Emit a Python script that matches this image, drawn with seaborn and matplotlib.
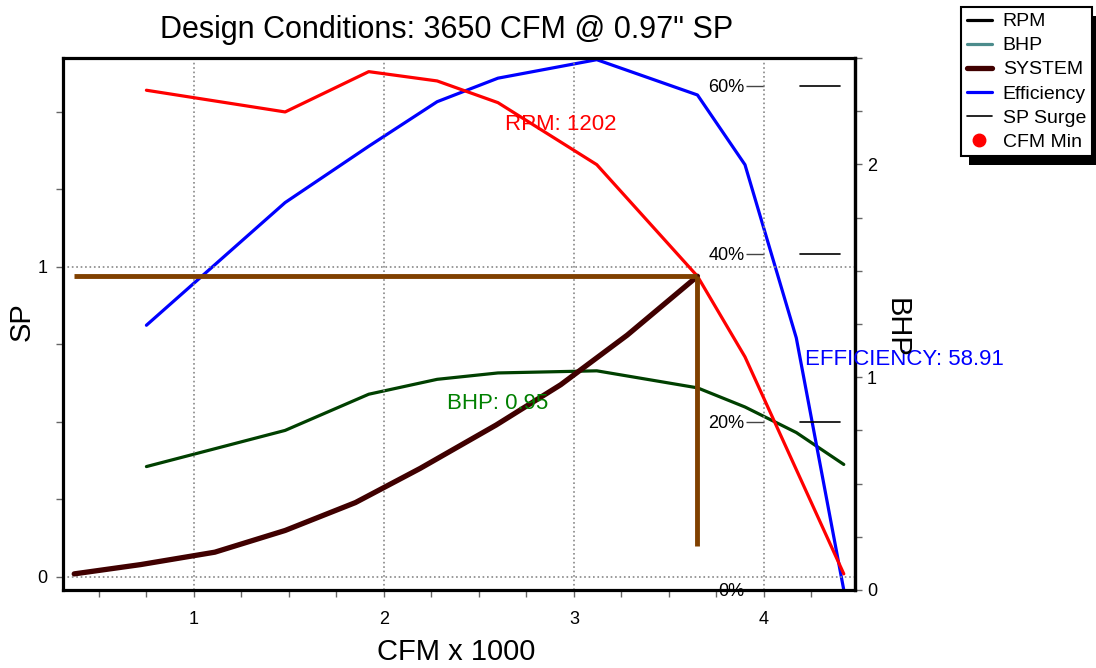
import matplotlib
matplotlib.use("Agg")
import matplotlib.pyplot as plt
import seaborn as sns
from matplotlib.lines import Line2D
from matplotlib.patches import Rectangle
from matplotlib.ticker import MultipleLocator, FixedLocator

# Courbe du ventilateur (SP en fonction du débit, à 1202 RPM)
fan_cfm = [0.75, 1.48, 1.92, 2.28, 2.60, 3.12, 3.65, 3.90, 4.42]
fan_sp = [1.57, 1.50, 1.63, 1.60, 1.53, 1.33, 0.97, 0.71, 0.01]

# Rendement (%)
eff_cfm = [0.75, 1.48, 1.92, 2.28, 2.60, 3.12, 3.65, 3.90, 4.17, 4.42]
eff_pct = [31.5, 46.1, 52.8, 58.1, 60.9, 63.1, 58.9, 50.6, 30.0, 0.0]

# Puissance (BHP)
bhp_cfm = [0.75, 1.48, 1.92, 2.28, 2.60, 3.12, 3.65, 3.90, 4.17, 4.42]
bhp_val = [0.58, 0.75, 0.92, 0.99, 1.02, 1.03, 0.95, 0.86, 0.74, 0.59]

# Courbe du système
sys_cfm = [0.37, 0.72, 1.11, 1.48, 1.85, 2.19, 2.59, 2.93, 3.28, 3.65]
sys_sp = [0.01, 0.04, 0.08, 0.15, 0.24, 0.35, 0.49, 0.62, 0.78, 0.97]

# Point de fonctionnement
design_cfm = 3.65
design_sp = 0.97
design_x_start = 0.37
design_y_end = 0.10

# Repères "SP Surge"
surge_pct = [60, 40, 20]
surge_x = [4.19, 4.40]

eff_ticks = [0, 20, 40, 60]
eff_tick_labels = ["0%", "20%", "40%", "60%"]

legend_labels = ["RPM", "BHP", "SYSTEM", "Efficiency", "SP Surge", "CFM Min"]

sns.set_theme(style="white")
plt.rcParams["font.family"] = ["Liberation Sans", "DejaVu Sans"]
plt.rcParams["text.color"] = "black"
plt.rcParams["xtick.labelcolor"] = "black"
plt.rcParams["ytick.labelcolor"] = "black"

W, H = 1096, 668
fig = plt.figure(figsize=(W / 100, H / 100), dpi=100)
ax = fig.add_axes([63 / W, 1 - 590 / H, (855 - 63) / W, (590 - 58) / H])
ax_bhp = ax.twinx()
ax_eff = ax.twinx()

# ordre d'affichage : BHP dessous, rendement, puis SP dessus
ax_bhp.set_zorder(1)
ax_eff.set_zorder(2)
ax.set_zorder(3)
ax.patch.set_visible(False)

# --- courbes ---
sns.lineplot(x=bhp_cfm, y=bhp_val, ax=ax_bhp, color="#004000", linewidth=2.3,
             sort=False, estimator=None)
sns.lineplot(x=eff_cfm, y=eff_pct, ax=ax_eff, color="#0000ff", linewidth=2.3,
             sort=False, estimator=None)
for p in surge_pct:
    ax_eff.plot(surge_x, [p, p], color="black", linewidth=1.2)
sns.lineplot(x=fan_cfm, y=fan_sp, ax=ax, color="#ff0000", linewidth=2.3,
             sort=False, estimator=None)
sns.lineplot(x=sys_cfm, y=sys_sp, ax=ax, color="#400000", linewidth=3.8,
             sort=False, estimator=None)
ax.plot([design_x_start, design_cfm], [design_sp, design_sp], color="#804000",
        linewidth=3.5, solid_capstyle="butt")
ax.plot([design_cfm, design_cfm], [design_sp, design_y_end], color="#804000",
        linewidth=3.5, solid_capstyle="butt")

# --- étiquettes dans le graphique ---
ax.text(2.93, 1.458, "RPM: 1202", color="#ff0000", fontsize=16,
        ha="center", va="center")
ax.text(2.60, 0.561, "BHP: 0.95", color="#008000", fontsize=16,
        ha="center", va="center")
ax.text(4.216, 0.70, "EFFICIENCY: 58.91", color="#0000ff", fontsize=16,
        ha="left", va="center")

# --- axes ---
ax.set_xlim(0.311, 4.479)
ax.set_ylim(-0.042, 1.674)
ax_bhp.set_ylim(0, 2.5)
ax_eff.set_ylim(0, 63.3)

ax.xaxis.set_major_locator(MultipleLocator(1))
ax.xaxis.set_minor_locator(MultipleLocator(0.25))
ax.yaxis.set_major_locator(MultipleLocator(1))
ax.yaxis.set_minor_locator(MultipleLocator(0.25))
ax.grid(True, which="major", color="#888888", linestyle=":", linewidth=1.2)
ax.tick_params(which="both", direction="out", length=5, width=1,
               color="#666666", labelsize=13, bottom=True, left=True)
ax.tick_params(axis="x", which="major", pad=10)
ax.tick_params(axis="y", which="major", pad=6)

ax_bhp.yaxis.set_major_locator(MultipleLocator(1))
ax_bhp.yaxis.set_minor_locator(MultipleLocator(0.25))
ax_bhp.tick_params(which="both", direction="out", length=5, width=1,
                   color="#666666", labelsize=13, right=True)
ax_bhp.grid(False)

# axe du rendement placé à CFM = 4
ax_eff.spines["right"].set_visible(False)
ax_eff.spines["left"].set_position(("data", 4))
ax_eff.spines["left"].set_visible(False)
ax_eff.yaxis.tick_left()
ax_eff.yaxis.set_major_locator(FixedLocator(eff_ticks))
ax_eff.set_yticklabels(eff_tick_labels)
ax_eff.tick_params(axis="y", direction="out", length=13, width=1,
                   color="#444444", labelsize=13, pad=1, left=True)
ax_eff.grid(False)

for a in (ax, ax_bhp, ax_eff):
    a.set_xlabel("")
    a.set_ylabel("")
for s in ["left", "right", "top", "bottom"]:
    ax.spines[s].set_color("black")
    ax.spines[s].set_linewidth(2.3)
for s in ["left", "top", "bottom"]:
    ax_bhp.spines[s].set_visible(False)
ax_bhp.spines["right"].set_color("black")
ax_bhp.spines["right"].set_linewidth(2.3)

# --- titres ---
fig.text(447 / W, 1 - 30 / H, "Design Conditions: 3650 CFM @ 0.97\" SP",
         fontsize=22, ha="center", va="center")
fig.text(456 / W, 1 - 652 / H, "CFM x 1000", fontsize=21, ha="center", va="center")
fig.text(22 / W, 1 - 322 / H, "SP", fontsize=21, rotation=90,
         ha="center", va="center")
fig.text(897 / W, 1 - 328 / H, "BHP", fontsize=21, rotation=270,
         ha="center", va="center")

# --- légende ---
handles = [
    Line2D([], [], color="black", linewidth=2.3),
    Line2D([], [], color="#4C8C8C", linewidth=2.3),
    Line2D([], [], color="#400000", linewidth=3.8),
    Line2D([], [], color="#0000ff", linewidth=2.3),
    Line2D([], [], color="black", linewidth=1.2),
    Line2D([], [], color="#ff0000", marker="o", markersize=9, linestyle="none"),
]
leg = fig.legend(handles, legend_labels, loc="upper right",
                 bbox_to_anchor=(1092 / W, 1 - 7 / H), frameon=True,
                 fancybox=False, edgecolor="black", framealpha=1, fontsize=14,
                 handlelength=1.3, labelspacing=0.33, borderpad=0.3,
                 handletextpad=0.55, borderaxespad=0)
leg.get_frame().set_linewidth(1.5)

# ombre noire décalée sous la légende
fig.canvas.draw()
bb = leg.get_window_extent()
fig.patches.append(Rectangle(((bb.x0 + 8) / W, (bb.y0 - 9) / H), bb.width / W,
                             bb.height / H, transform=fig.transFigure,
                             facecolor="black", edgecolor="none", zorder=1))

plt.savefig("out.png", dpi=100)
plt.close()
